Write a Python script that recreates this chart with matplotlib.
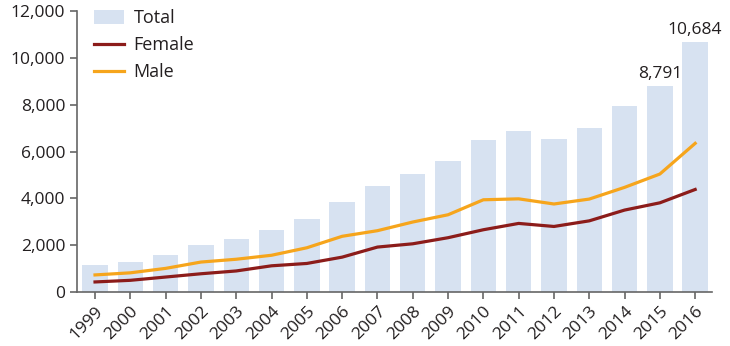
import matplotlib
matplotlib.use("Agg")
import matplotlib.pyplot as plt
from matplotlib.ticker import FuncFormatter

plt.rcParams['font.family'] = ['Open Sans', 'DejaVu Sans']

years = [1999, 2000, 2001, 2002, 2003, 2004, 2005, 2006, 2007, 2008,
         2009, 2010, 2011, 2012, 2013, 2014, 2015, 2016]
total = [1140, 1300, 1590, 2020, 2250, 2630, 3100, 3840, 4510, 5030,
         5580, 6500, 6870, 6530, 7000, 7960, 8791, 10684]
female = [430, 500, 640, 780, 900, 1120, 1220, 1490, 1920, 2060,
          2320, 2660, 2930, 2800, 3040, 3500, 3810, 4380]
male = [730, 820, 1010, 1280, 1400, 1570, 1890, 2380, 2620, 2990,
        3300, 3940, 3980, 3760, 3970, 4470, 5040, 6350]
labelled_years = [2015, 2016]

bar_color = '#d7e2f1'
female_color = '#8c1c1a'
male_color = '#f6a51c'
axis_color = '#666666'
text_color = '#231f20'

fig = plt.figure(figsize=(7.3, 3.46), dpi=100)
ax = fig.add_axes([0.1055, 0.156, 0.87, 0.812])

ax.bar(years, total, width=0.72, color=bar_color, label='Total', zorder=1)
ax.plot(years, female, color=female_color, lw=2.3, label='Female', zorder=3)
ax.plot(years, male, color=male_color, lw=2.3, label='Male', zorder=2)

for yr in labelled_years:
    v = total[years.index(yr)]
    ax.annotate(f'{v:,}', (yr, v), xytext=(0, 3), textcoords='offset points',
                ha='center', va='bottom', fontsize=12.5, color=text_color)

ax.set_xlim(1998.49, 2016.48)
ax.set_ylim(0, 12000)
ax.set_yticks(range(0, 12001, 2000))
ax.yaxis.set_major_formatter(FuncFormatter(lambda v, p: f'{int(v):,}'))
ax.set_xticks(years)
ax.set_xticklabels([str(y) for y in years], rotation=45, ha='right',
                   rotation_mode='anchor')

for s in ['top', 'right']:
    ax.spines[s].set_visible(False)
for s in ['left', 'bottom']:
    ax.spines[s].set_color(axis_color)
    ax.spines[s].set_linewidth(1.2)
ax.tick_params(axis='both', colors=axis_color, labelcolor=text_color,
               labelsize=12.5, length=5, width=1.2, direction='out')
ax.tick_params(axis='x', pad=3)

handles, labels = ax.get_legend_handles_labels()
order = [labels.index('Total'), labels.index('Female'), labels.index('Male')]
leg = ax.legend([handles[i] for i in order], [labels[i] for i in order],
                loc='upper left', bbox_to_anchor=(0.015, 1.032), frameon=False,
                fontsize=13, handlelength=1.65, handleheight=0.75,
                handletextpad=0.55, labelspacing=0.5, borderaxespad=0)
for t in leg.get_texts():
    t.set_color(text_color)

fig.savefig('out.png', dpi=100)
